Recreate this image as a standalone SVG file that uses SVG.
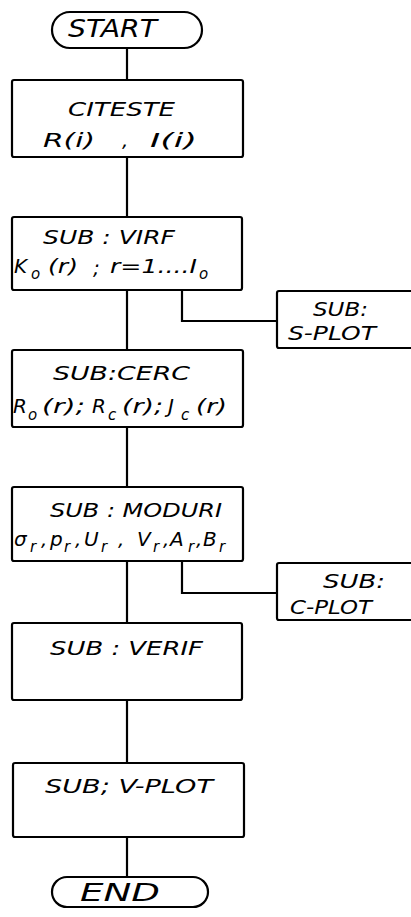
<svg xmlns="http://www.w3.org/2000/svg" width="411" height="917" viewBox="0 0 411 917">
  <style>
    .box { fill: #ffffff; stroke: #000000; stroke-width: 2.2; }
    .link { fill: none; stroke: #000000; stroke-width: 2.2; }
    text { font-family: "DejaVu Sans", "Liberation Sans", sans-serif; font-style: italic; fill: #000000; }
    .big { font-size: 25px; }
    .lbl { font-size: 20px; }
    .sub { font-size: 15px; }
  </style>
  <rect width="411" height="917" fill="#ffffff"/>

  <!-- connectors -->
  <g id="connectors">
    <line class="link" x1="127" y1="48" x2="127" y2="80"/>
    <line class="link" x1="127" y1="157" x2="127" y2="217"/>
    <line class="link" x1="127" y1="290" x2="127" y2="350"/>
    <polyline class="link" points="182,290 182,321 277,321"/>
    <line class="link" x1="127" y1="427" x2="127" y2="487"/>
    <line class="link" x1="127" y1="561" x2="127" y2="623"/>
    <polyline class="link" points="182,561 182,593 277,593"/>
    <line class="link" x1="127" y1="700" x2="127" y2="763"/>
    <line class="link" x1="127" y1="837" x2="127" y2="877"/>
  </g>

  <g id="start">
    <rect class="box" x="52" y="12" width="150" height="36" rx="18"/>
    <text class="big" x="68" y="37" textLength="89" lengthAdjust="spacingAndGlyphs">START</text>
  </g>

  <g id="citeste">
    <rect class="box" x="12" y="80" width="231" height="77" rx="2"/>
    <text class="lbl" x="68" y="116" textLength="107" lengthAdjust="spacingAndGlyphs">CITESTE</text>
    <text class="lbl" x="43" y="147" textLength="52" lengthAdjust="spacingAndGlyphs">R(i)</text>
    <text class="lbl" x="122" y="147">,</text>
    <text class="lbl" x="150" y="147" textLength="47" lengthAdjust="spacingAndGlyphs">I(i)</text>
  </g>

  <g id="virf">
    <rect class="box" x="12" y="217" width="230" height="73" rx="2"/>
    <text class="lbl" x="43" y="244" textLength="132" lengthAdjust="spacingAndGlyphs">SUB : VIRF</text>
    <text class="lbl" x="14" y="273">K</text>
    <text class="sub" x="31" y="279">o</text>
    <text class="lbl" x="48" y="273" textLength="30" lengthAdjust="spacingAndGlyphs">(r)</text>
    <text class="lbl" x="93" y="275">;</text>
    <text class="lbl" x="110" y="273" textLength="87" lengthAdjust="spacingAndGlyphs">r=1....I</text>
    <text class="sub" x="199" y="279">o</text>
  </g>

  <g id="s-plot">
    <rect class="box" x="277" y="291" width="150" height="57" rx="2"/>
    <text class="lbl" x="313" y="316" textLength="55" lengthAdjust="spacingAndGlyphs">SUB:</text>
    <text class="lbl" x="288" y="340" textLength="88" lengthAdjust="spacingAndGlyphs">S-PLOT</text>
  </g>

  <g id="cerc">
    <rect class="box" x="12" y="350" width="231" height="77" rx="2"/>
    <text class="lbl" x="53" y="380" textLength="137" lengthAdjust="spacingAndGlyphs">SUB:CERC</text>
    <text class="lbl" x="13" y="413">R</text>
    <text class="sub" x="28" y="420">o</text>
    <text class="lbl" x="42" y="413" textLength="43" lengthAdjust="spacingAndGlyphs">(r);</text>
    <text class="lbl" x="92" y="413">R</text>
    <text class="sub" x="108" y="420">c</text>
    <text class="lbl" x="122" y="413" textLength="41" lengthAdjust="spacingAndGlyphs">(r);</text>
    <text class="lbl" x="168" y="413">J</text>
    <text class="sub" x="181" y="420">c</text>
    <text class="lbl" x="196" y="413" textLength="31" lengthAdjust="spacingAndGlyphs">(r)</text>
  </g>

  <g id="moduri">
    <rect class="box" x="12" y="487" width="231" height="74" rx="2"/>
    <text class="lbl" x="50" y="517" textLength="172" lengthAdjust="spacingAndGlyphs">SUB : MODURI</text>
    <text class="lbl" x="14" y="546">σ</text>
    <text class="sub" x="30" y="552">r</text>
    <text class="lbl" x="41" y="546">,</text>
    <text class="lbl" x="50" y="546">p</text>
    <text class="sub" x="64" y="552">r</text>
    <text class="lbl" x="75" y="546">,</text>
    <text class="lbl" x="84" y="546">U</text>
    <text class="sub" x="101" y="552">r</text>
    <text class="lbl" x="118" y="546">,</text>
    <text class="lbl" x="137" y="546">V</text>
    <text class="sub" x="153" y="552">r</text>
    <text class="lbl" x="163" y="546">,</text>
    <text class="lbl" x="170" y="546">A</text>
    <text class="sub" x="188" y="552">r</text>
    <text class="lbl" x="196" y="546">,</text>
    <text class="lbl" x="203" y="546">B</text>
    <text class="sub" x="219" y="552">r</text>
  </g>

  <g id="c-plot">
    <rect class="box" x="277" y="563" width="150" height="57" rx="2"/>
    <text class="lbl" x="323" y="588" textLength="62" lengthAdjust="spacingAndGlyphs">SUB:</text>
    <text class="lbl" x="290" y="614" textLength="82" lengthAdjust="spacingAndGlyphs">C-PLOT</text>
  </g>

  <g id="verif">
    <rect class="box" x="12" y="623" width="230" height="77" rx="2"/>
    <text class="lbl" x="50" y="655" textLength="153" lengthAdjust="spacingAndGlyphs">SUB : VERIF</text>
  </g>

  <g id="v-plot">
    <rect class="box" x="13" y="763" width="231" height="74" rx="2"/>
    <text class="lbl" x="45" y="793" textLength="168" lengthAdjust="spacingAndGlyphs">SUB; V-PLOT</text>
  </g>

  <g id="end">
    <rect class="box" x="52" y="877" width="156" height="30" rx="15"/>
    <text class="big" x="80" y="901" textLength="80" lengthAdjust="spacingAndGlyphs">END</text>
  </g>
</svg>
